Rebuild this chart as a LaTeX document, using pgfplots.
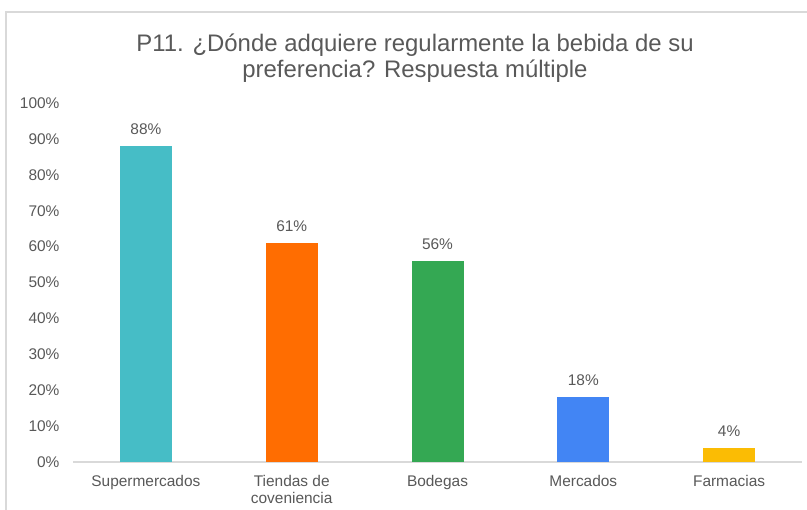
\documentclass[border=0pt]{standalone}
\usepackage{pgfplots}
\pgfplotsset{compat=1.18}
\usepackage{fontspec}
\setmainfont{Liberation Sans}

\definecolor{txtgray}{HTML}{595959}
\definecolor{linegray}{HTML}{D9D9D9}
\definecolor{cTeal}{HTML}{46BDC6}
\definecolor{cOrange}{HTML}{FF6D01}
\definecolor{cGreen}{HTML}{34A853}
\definecolor{cBlue}{HTML}{4285F4}
\definecolor{cYellow}{HTML}{FBBC04}

\begin{document}
\begin{tikzpicture}[x=1bp,y=1bp]
\useasboundingbox (0,0) rectangle (807,510);
\fill[white] (0,0) rectangle (807,510);
% outer chart frame (cut off at right and bottom)
\draw[linegray, line width=1.5bp] (6,-5) -- (6,498) -- (815,498);
% title
\node[txtgray, font=\fontsize{24}{26.5}\selectfont, align=center] at (415,452)
  {P11. ¿Dónde adquiere regularmente la bebida de su\\preferencia? Respuesta múltiple};
\begin{axis}[
    at={(73bp,48bp)}, anchor=south west,
    scale only axis,
    width=729bp, height=359bp,
    ybar, bar width=52bp, bar shift=0pt,
    xmin=-0.5, xmax=4.5,
    ymin=0, ymax=100,
    axis x line*=bottom,
    axis y line=none,
    x axis line style={linegray, line width=1.5bp, -},
    xtick={0,1,2,3,4},
    xticklabels={Supermercados, {Tiendas de\\coveniencia}, Bodegas, Mercados, Farmacias},
    xticklabel style={align=center, font=\fontsize{15.5}{17}\selectfont, text=txtgray, anchor=north, yshift=-10bp},
    major tick length=0pt,
    clip=false,
    nodes near coords={\pgfmathprintnumber[assume math mode=true]{\pgfplotspointmeta}\%},
    nodes near coords style={font=\fontsize{15.5}{17}\selectfont, text=txtgray, yshift=8bp},
  ]
  % y tick labels drawn as nodes in axis coordinates
  \foreach \v in {0,10,...,100} {
    \edef\tmp{\noexpand\node[anchor=east, text=txtgray, font=\noexpand\fontsize{15.5}{17}\noexpand\selectfont] at (axis cs:-0.5,\v) [xshift=-10bp] {\v\noexpand\%};}
    \tmp
  }
  \addplot[fill=cTeal, draw=none] coordinates {(0,88)};
  \addplot[fill=cOrange, draw=none] coordinates {(1,61)};
  \addplot[fill=cGreen, draw=none] coordinates {(2,56)};
  \addplot[fill=cBlue, draw=none] coordinates {(3,18)};
  \addplot[fill=cYellow, draw=none] coordinates {(4,4)};
\end{axis}
\end{tikzpicture}
\end{document}
